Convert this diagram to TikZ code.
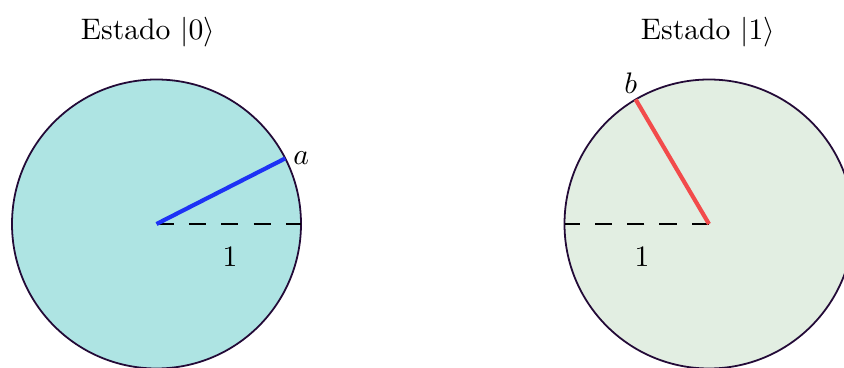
\documentclass[tikz,border=0pt]{standalone}
\definecolor{qcyan}{RGB}{174,228,227}
\definecolor{qgreen}{RGB}{226,238,226}
\definecolor{qedge}{RGB}{35,10,55}
\definecolor{qblue}{RGB}{30,50,245}
\definecolor{qred}{RGB}{242,75,75}
\usepackage{amsmath,amssymb}
\usepackage{tikz}
\usetikzlibrary{positioning}

\begin{document}
\begin{tikzpicture}[
    x=0.011848cm, y=0.011848cm,
    disc/.style={draw=qedge, line width=0.6pt},
    radius/.style={dash pattern=on 5.8pt off 5.1pt, line width=1pt},
    vec/.style={line width=1.4pt},
  ]
    \clip (0,0) rectangle (844,367);
    % centres of both states
    \coordinate (c0) at (156.5,143);
    \coordinate (c1) at (709,143);
    \draw[disc, fill=qcyan]  (c0) circle (144.5);
    \draw[disc, fill=qgreen] (c1) circle (144.5);
    \draw[radius] (c0) -- ++(144.5,0) coordinate (r0);
    \draw[radius] (c1) -- ++(-144.5,0) coordinate (r1);
    \draw[vec, qblue] (c0) -- ++(27:144.5) coordinate (a);
    \draw[vec, qred] (c1) -- ++(120.5:144.5) coordinate (b);
    \node[right=2.5pt of a, inner sep=0pt] (la) {$a$};
    \node[anchor=south, inner sep=0pt, xshift=-1.7pt, yshift=1.7pt] (lb) at (b) {$b$};
    \node (one0) at (230,110) {$1$};
    \node (one1) at (642,110) {$1$};
    \node (t0) at (148,335) {Estado $|0\rangle$};
    \node (t1) at (708,335) {Estado $|1\rangle$};
  \end{tikzpicture}
\end{document}
